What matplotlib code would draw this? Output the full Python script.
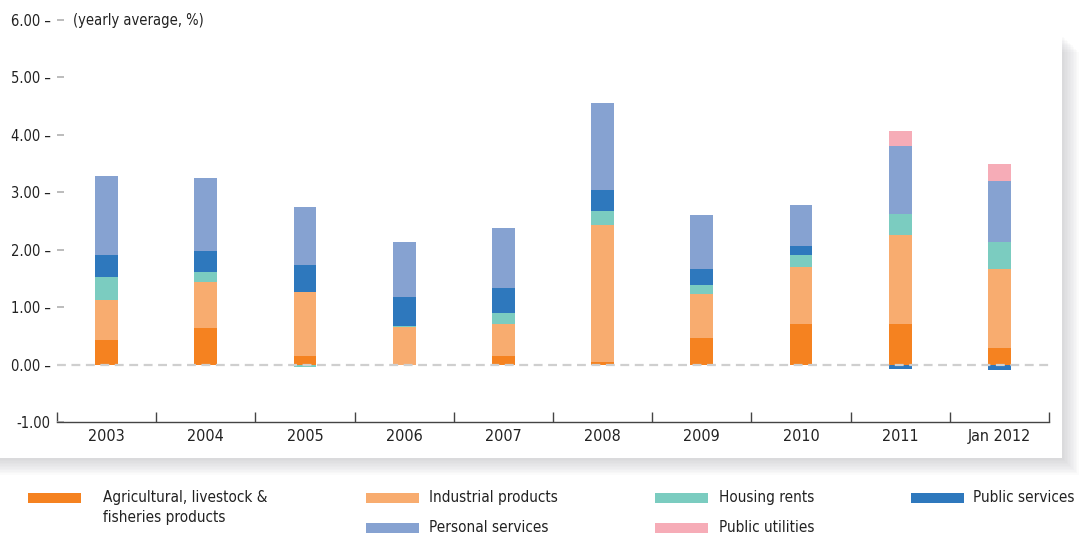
import numpy as np
import matplotlib.pyplot as plt
from matplotlib.patches import Rectangle

plt.rcParams['font.family'] = ['DejaVu Sans']
plt.rcParams['font.stretch'] = 'condensed'

years = ['2003', '2004', '2005', '2006', '2007', '2008', '2009', '2010', '2011', 'Jan 2012']
agri = [0.43, 0.64, 0.15, 0.00, 0.15, 0.05, 0.47, 0.71, 0.70, 0.28]
industrial = [0.70, 0.80, 1.12, 0.65, 0.56, 2.38, 0.76, 0.99, 1.56, 1.39]
housing = [0.40, 0.18, -0.05, 0.03, 0.19, 0.25, 0.16, 0.20, 0.37, 0.47]
public_serv = [0.37, 0.35, 0.47, 0.50, 0.44, 0.36, 0.28, 0.17, -0.07, -0.10]
personal = [1.39, 1.28, 1.01, 0.96, 1.04, 1.52, 0.94, 0.71, 1.18, 1.06]
utilities = [0.00, 0.00, 0.00, 0.00, 0.00, 0.00, 0.00, 0.00, 0.26, 0.30]

series = [agri, industrial, housing, public_serv, personal, utilities]
colors = ['#F58220', '#F8AC6F', '#7BCCC0', '#2E78BD', '#86A2D1', '#F6ACB7']
labels = ['Agricultural, livestock &\nfisheries products', 'Industrial products',
          'Housing rents', 'Public services', 'Personal services', 'Public utilities']

W, H = 1079, 537
fig = plt.figure(figsize=(W / 100, H / 100), dpi=100)


def fx(p):
    return p / W


def fy(p):
    return 1 - p / H


# white panel with soft drop shadow
for i in range(12):
    off = 1.5 * i
    fig.add_artist(Rectangle((fx(0), fy(458 + off)), fx(1062 + off), fy(35 + off) - fy(458 + off),
                             transform=fig.transFigure, facecolor='#9a9da3', alpha=0.035,
                             edgecolor='none', zorder=0))
fig.add_artist(Rectangle((0, fy(458)), fx(1062), fy(0) - fy(458), transform=fig.transFigure,
                         facecolor='white', edgecolor='none', zorder=0.5))

ax = fig.add_axes([fx(57), fy(422), fx(1049) - fx(57), fy(20) - fy(422)])
ax.set_facecolor('none')
ax.set_zorder(2)

x = np.arange(len(years))
pos_bottom = np.zeros(len(years))
neg_bottom = np.zeros(len(years))
for vals, c in zip(series, colors):
    v = np.array(vals)
    bottom = np.where(v >= 0, pos_bottom, neg_bottom)
    ax.bar(x, v, 0.23, bottom=bottom, color=c, edgecolor='none', zorder=3)
    pos_bottom += np.where(v >= 0, v, 0)
    neg_bottom += np.where(v < 0, v, 0)

ax.axhline(0, color='#cfcfcf', lw=1.6, ls=(0, (4, 2.5)), zorder=4)

ax.set_xlim(-0.5, len(years) - 0.5)
ax.set_ylim(-1, 6)
for s in ['top', 'right', 'left']:
    ax.spines[s].set_visible(False)
ax.spines['bottom'].set_color('#444444')
ax.spines['bottom'].set_linewidth(1)

yt = np.arange(-1, 7)
ax.set_yticks(yt)
ax.set_yticklabels([f'{v:.2f} \u2013' if v > -1 else f'{v:.2f}' for v in yt], fontsize=10.5, color='#222222')
ax.tick_params(axis='y', length=5, direction='in', color='#b0b0b0', width=1.2, pad=4.5)

ax.set_xticks(x)
ax.set_xticklabels(years, fontsize=11.5, color='#222222')
ax.tick_params(axis='x', length=0, pad=5)
ax.set_xticks(np.arange(-0.5, len(years)), minor=True)
ax.tick_params(axis='x', which='minor', length=7, direction='in', color='#444444', width=1)

fig.text(fx(73), fy(20), '(yearly average, %)', fontsize=10.5, color='#222222', va='center', ha='left')

# legend
leg_pos = [(28, 498), (366, 498), (655, 498), (911, 498), (366, 528), (655, 528)]
txt_off = [75, 63, 64, 62, 63, 64]
for (px, py), off, c, lab in zip(leg_pos, txt_off, colors, labels):
    fig.add_artist(Rectangle((fx(px), fy(py + 5)), fx(53), fy(py - 5) - fy(py + 5),
                             transform=fig.transFigure, facecolor=c, edgecolor='none'))
    fig.text(fx(px + off), fy(py - 8), lab, fontsize=11, color='#222222', va='top', ha='left',
             linespacing=1.45)

fig.savefig('out.png', dpi=100)
